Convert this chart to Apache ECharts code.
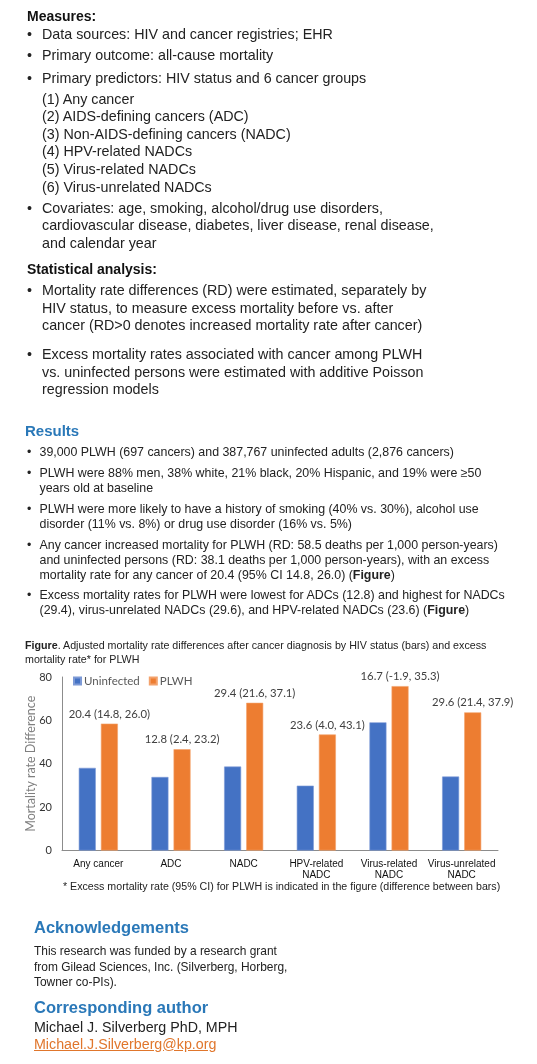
<!DOCTYPE html>
<html><head><meta charset="utf-8">
<script src="https://cdn.jsdelivr.net/npm/echarts@6/dist/echarts.min.js"></script>
<style>
html,body{margin:0;padding:0;background:#fff;}
#page{position:relative;width:537px;height:1064px;overflow:hidden;font-family:"Liberation Sans",Arial,sans-serif;color:#222;}
#chart{position:absolute;left:0;top:0;width:537px;height:1064px;}
.t{position:absolute;white-space:nowrap;z-index:2;}
</style></head>
<body><div id="page"><div id="chart"></div></div>
<script>
// ---- chart data ----
const categories = ['Any cancer','ADC','NADC','HPV-related\nNADC','Virus-related\nNADC','Virus-unrelated\nNADC'];
const uninfected = [38.1, 33.9, 38.7, 29.9, 59.1, 34.1];
const plwh = [58.5, 46.7, 68.1, 53.5, 75.8, 63.7];
const excess = [20.4, 12.8, 29.4, 23.6, 16.7, 29.6];
const ciLow = [14.8, 2.4, 21.6, 4.0, -1.9, 21.4];
const ciHigh = [26.0, 23.2, 37.1, 43.1, 35.3, 37.9];
const yMin = 0, yMax = 80, yStep = 20;

// ---- text lines: [x, yCenter, size, weight, color, html, extraStyle] ----
const BLUE = '#2a78b8';
const M = 14.3, R = 12.4;
const lines = [
  [27, 16.7, 14, 'bold', '#111', 'Measures:'],
  [27, 35, M, 'normal', '#222', '•'], [42, 35, M, 'normal', '#222', 'Data sources: HIV and cancer registries; EHR'],
  [27, 56, M, 'normal', '#222', '•'], [42, 56, M, 'normal', '#222', 'Primary outcome: all-cause mortality'],
  [27, 78.3, M, 'normal', '#222', '•'], [42, 78.3, M, 'normal', '#222', 'Primary predictors: HIV status and 6 cancer groups'],
  [42, 99.3, M, 'normal', '#222', '(1) Any cancer'],
  [42, 116.7, M, 'normal', '#222', '(2) AIDS-defining cancers (ADC)'],
  [42, 135, M, 'normal', '#222', '(3) Non-AIDS-defining cancers (NADC)'],
  [42, 151.7, M, 'normal', '#222', '(4) HPV-related NADCs'],
  [42, 169.3, M, 'normal', '#222', '(5) Virus-related NADCs'],
  [42, 187.3, M, 'normal', '#222', '(6) Virus-unrelated NADCs'],
  [27, 209, M, 'normal', '#222', '•'], [42, 209, M, 'normal', '#222', 'Covariates: age, smoking, alcohol/drug use disorders,'],
  [42, 226, M, 'normal', '#222', 'cardiovascular disease, diabetes, liver disease, renal disease,'],
  [42, 243.3, M, 'normal', '#222', 'and calendar year'],
  [27, 269, 14, 'bold', '#111', 'Statistical analysis:'],
  [27, 290.7, M, 'normal', '#222', '•'], [42, 290.7, M, 'normal', '#222', 'Mortality rate differences (RD) were estimated, separately by'],
  [42, 308.3, M, 'normal', '#222', 'HIV status, to measure excess mortality before vs. after'],
  [42, 326, M, 'normal', '#222', 'cancer (RD&gt;0 denotes increased mortality rate after cancer)'],
  [27, 354.3, M, 'normal', '#222', '•'], [42, 354.3, M, 'normal', '#222', 'Excess mortality rates associated with cancer among PLWH'],
  [42, 372.3, M, 'normal', '#222', 'vs. uninfected persons were estimated with additive Poisson'],
  [42, 389.3, M, 'normal', '#222', 'regression models'],
  [25, 430.7, 15, 'bold', BLUE, 'Results'],
  [27, 452.3, R, 'normal', '#222', '•'], [39.5, 452.3, R, 'normal', '#222', '39,000 PLWH (697 cancers) and 387,767 uninfected adults (2,876 cancers)'],
  [27, 473.3, R, 'normal', '#222', '•'], [39.5, 473.3, R, 'normal', '#222', 'PLWH were 88% men, 38% white, 21% black, 20% Hispanic, and 19% were ≥50'],
  [39.5, 488.3, R, 'normal', '#222', 'years old at baseline'],
  [27, 509, R, 'normal', '#222', '•'], [39.5, 509, R, 'normal', '#222', 'PLWH were more likely to have a history of smoking (40% vs. 30%), alcohol use'],
  [39.5, 524.3, R, 'normal', '#222', 'disorder (11% vs. 8%) or drug use disorder (16% vs. 5%)'],
  [27, 545, R, 'normal', '#222', '•'], [39.5, 545, R, 'normal', '#222', 'Any cancer increased mortality for PLWH (RD: 58.5 deaths per 1,000 person-years)'],
  [39.5, 560.7, R, 'normal', '#222', 'and uninfected persons (RD: 38.1 deaths per 1,000 person-years), with an excess'],
  [39.5, 575.7, R, 'normal', '#222', 'mortality rate for any cancer of 20.4 (95% CI 14.8, 26.0) (<b>Figure</b>)'],
  [27, 595.3, R, 'normal', '#222', '•'], [39.5, 595.3, R, 'normal', '#222', 'Excess mortality rates for PLWH were lowest for ADCs (12.8) and highest for NADCs'],
  [39.5, 610.7, R, 'normal', '#222', '(29.4), virus-unrelated NADCs (29.6), and HPV-related NADCs (23.6) (<b>Figure</b>)'],
  [25, 645, 10.7, 'normal', '#222', '<b>Figure</b>. Adjusted mortality rate differences after cancer diagnosis by HIV status (bars) and excess'],
  [25, 659, 10.7, 'normal', '#222', 'mortality rate* for PLWH'],
  [63, 886.7, 10.65, 'normal', '#222', '* Excess mortality rate (95% CI) for PLWH is indicated in the figure (difference between bars)'],
  [34, 928.3, 16.5, 'bold', BLUE, 'Acknowledgements'],
  [34, 950.7, 11.95, 'normal', '#222', 'This research was funded by a research grant'],
  [34, 966.7, 11.95, 'normal', '#222', 'from Gilead Sciences, Inc. (Silverberg, Horberg,'],
  [34, 982.3, 11.95, 'normal', '#222', 'Towner co-PIs).'],
  [34, 1008.3, 16.5, 'bold', BLUE, 'Corresponding author'],
  [34, 1027.7, 14.25, 'normal', '#222', 'Michael J. Silverberg PhD, MPH'],
  [34, 1044.3, 14.25, 'normal', '#e0762c', 'Michael.J.Silverberg@kp.org', 'text-decoration:underline;']
];
const page = document.getElementById('page');
lines.forEach(l => {
  const d = document.createElement('div');
  d.className = 't';
  const lh = l[2] * 1.2;
  d.style.cssText = `left:${l[0]}px;top:${l[1] - lh / 2}px;font-size:${l[2]}px;line-height:${lh}px;font-weight:${l[3]};color:${l[4]};` + (l[6] || '');
  d.innerHTML = l[5];
  page.appendChild(d);
});

// ---- chart ----
const chart = echarts.init(document.getElementById('chart'), null, {renderer: 'canvas'});
const LBL = 'Lato, "Liberation Sans", sans-serif';
chart.setOption({
  animation: false,
  backgroundColor: 'transparent',
  grid: {left: 62, top: 677, width: 436, height: 173.5},
  legend: {
    left: 73, top: 675, padding: 0, itemWidth: 7, itemHeight: 7, itemGap: 9,
    icon: 'rect',
    textStyle: {fontFamily: LBL, fontSize: 11.5, color: '#595959', padding: [0, 0, 0, -2]},
    data: ['Uninfected', 'PLWH']
  },
  xAxis: {
    type: 'category', data: categories,
    axisLine: {lineStyle: {color: '#8c8c8c', width: 1}},
    axisTick: {show: false},
    axisLabel: {fontFamily: '"Liberation Sans", Arial, sans-serif', fontSize: 10, color: '#111', margin: 8, lineHeight: 11, interval: 0}
  },
  yAxis: {
    type: 'value', min: yMin, max: yMax, interval: yStep,
    name: 'Mortality rate Difference', nameLocation: 'middle', nameGap: 25, nameRotate: 90,
    nameMoveOverlap: false,
    nameTextStyle: {fontFamily: LBL, fontSize: 12.5, color: '#7f7f7f'},
    axisLine: {show: true, lineStyle: {color: '#8c8c8c', width: 1}},
    axisTick: {show: false},
    splitLine: {show: false},
    axisLabel: {fontFamily: LBL, fontSize: 11, color: '#333', margin: 10}
  },
  series: [
    {
      name: 'Uninfected', type: 'bar', data: uninfected, barWidth: 17, barGap: '30%',
      itemStyle: {color: '#4472c4', borderColor: '#7d9ad6', borderWidth: 0.6}
    },
    {
      name: 'PLWH', type: 'bar', data: plwh, barWidth: 17,
      itemStyle: {color: '#ed7d31', borderColor: '#f3a26c', borderWidth: 0.6},
      label: {
        show: true, position: 'top', distance: 4,
        fontFamily: LBL, fontSize: 11.3, color: '#404040',
        formatter: p => `${excess[p.dataIndex].toFixed(1)} (${ciLow[p.dataIndex].toFixed(1)}, ${ciHigh[p.dataIndex].toFixed(1)})`
      }
    }
  ]
});
</script></body></html>
